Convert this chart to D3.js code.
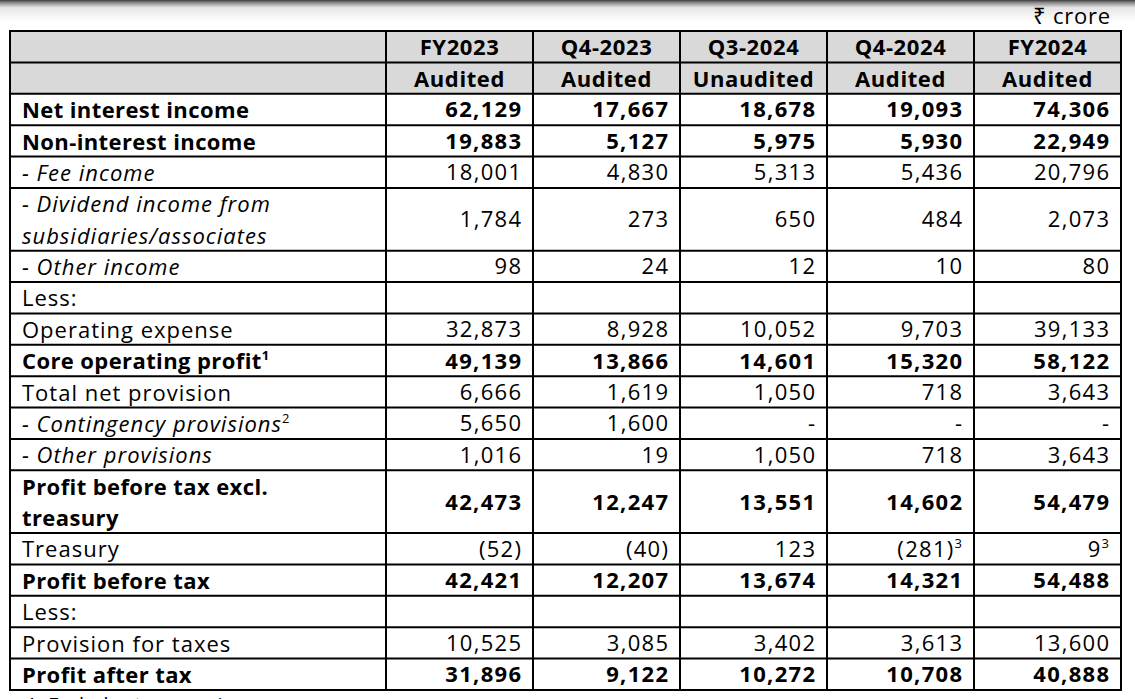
<!DOCTYPE html>
<html>
<head>
<meta charset="utf-8">
<script src="https://cdn.jsdelivr.net/npm/d3@7"></script>
<style>
html,body{margin:0;padding:0;background:#fff;}
svg{display:block;}
</style>
</head>
<body>
<script>
// ---------- data ----------
const periods = ["FY2023", "Q4-2023", "Q3-2024", "Q4-2024", "FY2024"];
const statuses = ["Audited", "Audited", "Unaudited", "Audited", "Audited"];
const rowLabels = [
  ["Net interest income"],
  ["Non-interest income"],
  ["- Fee income"],
  ["- Dividend income from", "subsidiaries/associates"],
  ["- Other income"],
  ["Less:"],
  ["Operating expense"],
  ["Core operating profit"],
  ["Total net provision"],
  ["- Contingency provisions"],
  ["- Other provisions"],
  ["Profit before tax excl.", "treasury"],
  ["Treasury"],
  ["Profit before tax"],
  ["Less:"],
  ["Provision for taxes"],
  ["Profit after tax"]
];
const rowBold =   [1,1,0,0,0,0,0,1,0,0,0,1,0,1,0,0,1];
const rowItalic = [0,0,1,1,1,0,0,0,0,1,1,0,0,0,0,0,0];
const labelNotes = {7: "1", 9: "2"};
const fy2023 = [62129,19883,18001,1784,98,null,32873,49139,6666,5650,1016,42473,-52,42421,null,10525,31896];
const q42023 = [17667,5127,4830,273,24,null,8928,13866,1619,1600,19,12247,-40,12207,null,3085,9122];
const q32024 = [18678,5975,5313,650,12,null,10052,14601,1050,0,1050,13551,123,13674,null,3402,10272];
const q42024 = [19093,5930,5436,484,10,null,9703,15320,718,0,718,14602,-281,14321,null,3613,10708];
const fy2024 = [74306,22949,20796,2073,80,null,39133,58122,3643,0,3643,54479,9,54488,null,13600,40888];
const seriesValues = [fy2023, q42023, q32024, q42024, fy2024];
// footnote markers on values: [rowIndex, columnIndex, marker]
const valueNotes = [[12, 3, "3"], [12, 4, "3"]];
const unitLabel = "₹ crore";
const footnoteText = "1.  Excludes treasury income";

// ---------- layout ----------
const W = 1135, H = 699;
const font = "'Open Sans', 'Noto Sans', sans-serif";
const fs = 22;
const svg = d3.select("body").append("svg").attr("width", W).attr("height", H);

// top shadow
const defs = svg.append("defs");
const grad = defs.append("linearGradient").attr("id","shade").attr("x1",0).attr("y1",0).attr("x2",0).attr("y2",1);
grad.append("stop").attr("offset","0%").attr("stop-color","#3c3c3c");
grad.append("stop").attr("offset","12%").attr("stop-color","#8a8a8a");
grad.append("stop").attr("offset","35%").attr("stop-color","#e6e6e6");
grad.append("stop").attr("offset","100%").attr("stop-color","#ffffff");
svg.append("rect").attr("x",0).attr("y",0).attr("width",W).attr("height",22).attr("fill","url(#shade)");

// row units
const spans = rowLabels.map(l => l.length);
const starts = [];
let acc = 2;
spans.forEach(s => { starts.push(acc); acc += s; });
const totalUnits = acc;
const y = d3.scaleLinear().domain([0, totalUnits]).range([31, 690]);
const x = d3.scaleBand().domain(periods).range([386, 1121]);
const left = 10, right = 1121;

// header fill
svg.append("rect").attr("x", left).attr("y", y(0)).attr("width", right-left).attr("height", y(2)-y(0)).attr("fill","#d9d9d9");

const fmtNum = d3.format(",");
function fmt(v){
  if (v === null) return "";
  if (v === 0) return "-";
  return v < 0 ? "(" + fmtNum(-v) + ")" : fmtNum(v);
}

// header text
const hdr = svg.append("g").attr("font-family", font).attr("font-size", fs).attr("font-weight", "bold")
  .attr("letter-spacing", 0.6).attr("text-anchor","middle").attr("fill","#000");
hdr.selectAll("text.p").data(periods).join("text").attr("class","p")
  .attr("x", d => x(d) + x.bandwidth()/2).attr("y", y(1) - 7).text(d => d);
hdr.selectAll("text.s").data(statuses).join("text").attr("class","s")
  .attr("x", (d,i) => x(periods[i]) + x.bandwidth()/2).attr("y", y(2) - 7).text(d => d);

// unit label
svg.append("text").attr("x", 1111).attr("y", 24).attr("text-anchor","end").attr("letter-spacing", 0.8)
  .attr("font-family", font).attr("font-size", fs).attr("fill","#000").text(unitLabel);

// row labels
const lab = svg.append("g").attr("font-family", font).attr("font-size", fs).attr("fill","#000");
rowLabels.forEach((lines, i) => {
  lines.forEach((line, j) => {
    const t = lab.append("text").attr("x", 22).attr("y", y(starts[i] + j + 1) - 7)
      .attr("font-weight", rowBold[i] ? "bold" : "normal")
      .attr("font-style", rowItalic[i] ? "italic" : "normal")
      .attr("letter-spacing", rowBold[i] ? 0.4 : 1.0)
      .text(line);
    if (j === lines.length - 1 && labelNotes[i]) {
      t.append("tspan").attr("dy", -9).attr("font-size", 13).attr("font-style","normal").text(labelNotes[i]);
    }
  });
});

// values
const ls = 1.3;
const vals = svg.append("g").attr("font-family", font).attr("font-size", fs).attr("fill","#000")
  .attr("text-anchor","end").attr("letter-spacing", ls);
seriesValues.forEach((col, c) => {
  const p = periods[c];
  col.forEach((v, i) => {
    const note = valueNotes.find(n => n[0] === i && n[1] === c);
    const yc = (y(starts[i]) + y(starts[i] + spans[i])) / 2;
    const t = vals.append("text")
      .attr("x", x(p) + x.bandwidth() - 12 + ls)
      .attr("y", yc + 8)
      .attr("font-weight", rowBold[i] ? "bold" : "normal")
      .text(fmt(v));
    if (note) t.append("tspan").attr("dy", -9).attr("font-size", 13).text(note[2]);
  });
});

// grid lines
const grid = svg.append("g").attr("stroke","#000").attr("stroke-width",2);
const hLines = [0, 1, 2].concat(starts.map((s,i) => s + spans[i]));
grid.selectAll("line.h").data(hLines).join("line").attr("class","h")
  .attr("x1", left).attr("x2", right).attr("y1", d => y(d)).attr("y2", d => y(d));
const vX = [left, 386].concat(periods.map(p => x(p) + x.bandwidth()));
grid.selectAll("line.v").data(vX).join("line").attr("class","v")
  .attr("x1", d => d).attr("x2", d => d).attr("y1", y(0) - 1).attr("y2", y(totalUnits) + 1);

// footnote (cut off at bottom, as in the reference)
svg.append("text").attr("x", 26).attr("y", 712).attr("font-family", font).attr("font-size", 20).attr("fill","#000").text(footnoteText);
</script>
</body>
</html>
